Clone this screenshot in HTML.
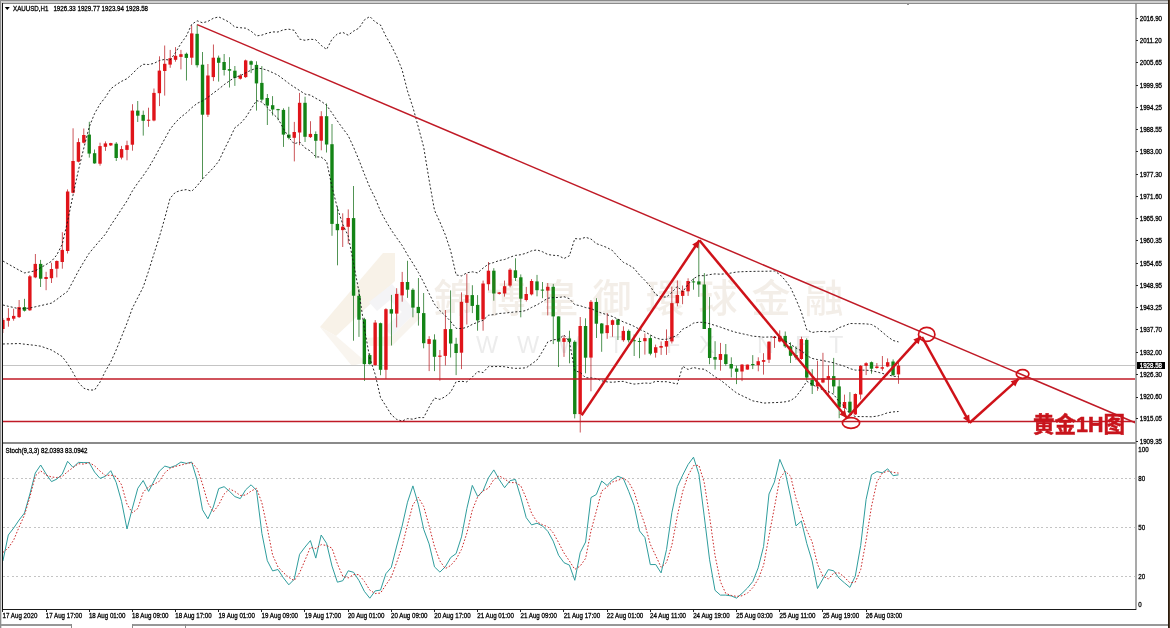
<!DOCTYPE html><html><head><meta charset="utf-8"><title>XAUUSD,H1</title><style>
html,body{margin:0;padding:0;background:#fff;width:1170px;height:628px;overflow:hidden}
svg{display:block}
text{font-family:"Liberation Sans","DejaVu Sans",sans-serif}
.cj{font-family:"Liberation Sans","Noto Sans CJK SC",sans-serif}
</style></head><body>
<svg width="1170" height="628" viewBox="0 0 1170 628" shape-rendering="crispEdges">
<rect x="0" y="0" width="1170" height="628" fill="#ffffff"/>
<rect x="0" y="0" width="1170" height="1" fill="#8a8a8a"/>
<rect x="1" y="1" width="1167" height="2" fill="#cfcfcf"/>
<rect x="2" y="3" width="1166" height="1" fill="#8c8c8c"/>
<rect x="0" y="0" width="1" height="628" fill="#8e8e8e"/>
<rect x="1" y="1" width="1" height="627" fill="#dadada"/>
<rect x="2" y="3" width="1" height="607" fill="#111"/>
<rect x="1168" y="0" width="1" height="628" fill="#2a1a0c"/>
<rect x="1169" y="0" width="1" height="628" fill="#4d3a28"/>
<defs><clipPath id="main"><rect x="3" y="4" width="1132" height="438"/></clipPath>
<clipPath id="sto"><rect x="3" y="445" width="1132" height="164"/></clipPath></defs>
<g clip-path="url(#main)">
<g shape-rendering="auto">
<polygon points="383,253 395,253 395,281 336,336 320,327" fill="#f8f2e8"/>
<polygon points="320,327 336,336 366,362 352,366" fill="#f9f5ef"/>
<polygon points="369,302 392,284 416,312 392,336 384,328 402,312 390,300 377,311" fill="#f4f4f6"/>
<polygon points="366,338 392,336 416,312 420,318 392,346 370,346" fill="#f8f4ee"/>
</g>
<rect x="3" y="365" width="1132" height="1" fill="#c4c4c4"/>
<rect x="2.55" y="318.0" width="0.72" height="15.0" fill="#b8161c" shape-rendering="auto"/>
<rect x="1.20" y="319.9" width="3.4" height="9.1" fill="#e0141a" shape-rendering="auto"/>
<rect x="7.95" y="308.2" width="0.72" height="18.5" fill="#b8161c" shape-rendering="auto"/>
<rect x="6.59" y="317.9" width="3.4" height="2.8" fill="#e0141a" shape-rendering="auto"/>
<rect x="13.34" y="308.7" width="0.72" height="12.0" fill="#b8161c" shape-rendering="auto"/>
<rect x="11.99" y="315.9" width="3.4" height="2.8" fill="#e0141a" shape-rendering="auto"/>
<rect x="18.73" y="300.0" width="0.72" height="18.0" fill="#b8161c" shape-rendering="auto"/>
<rect x="17.38" y="307.1" width="3.4" height="10.0" fill="#e0141a" shape-rendering="auto"/>
<rect x="24.13" y="298.8" width="0.72" height="12.7" fill="#0e6a12" shape-rendering="auto"/>
<rect x="22.78" y="307.1" width="3.4" height="3.6" fill="#138416" shape-rendering="auto"/>
<rect x="29.52" y="275.0" width="0.72" height="35.9" fill="#b8161c" shape-rendering="auto"/>
<rect x="28.17" y="276.3" width="3.4" height="34.0" fill="#e0141a" shape-rendering="auto"/>
<rect x="34.92" y="254.0" width="0.72" height="24.2" fill="#b8161c" shape-rendering="auto"/>
<rect x="33.57" y="263.9" width="3.4" height="13.5" fill="#e0141a" shape-rendering="auto"/>
<rect x="40.31" y="259.9" width="0.72" height="27.1" fill="#0e6a12" shape-rendering="auto"/>
<rect x="38.96" y="263.9" width="3.4" height="14.8" fill="#138416" shape-rendering="auto"/>
<rect x="45.71" y="271.8" width="0.72" height="18.4" fill="#b8161c" shape-rendering="auto"/>
<rect x="44.36" y="277.0" width="3.4" height="2.0" fill="#e0141a" shape-rendering="auto"/>
<rect x="51.10" y="262.8" width="0.72" height="20.2" fill="#b8161c" shape-rendering="auto"/>
<rect x="49.75" y="269.0" width="3.4" height="9.2" fill="#e0141a" shape-rendering="auto"/>
<rect x="56.50" y="260.4" width="0.72" height="17.0" fill="#b8161c" shape-rendering="auto"/>
<rect x="55.15" y="261.0" width="3.4" height="7.7" fill="#e0141a" shape-rendering="auto"/>
<rect x="61.89" y="232.2" width="0.72" height="36.5" fill="#b8161c" shape-rendering="auto"/>
<rect x="60.54" y="249.9" width="3.4" height="12.1" fill="#e0141a" shape-rendering="auto"/>
<rect x="67.29" y="189.4" width="0.72" height="64.1" fill="#b8161c" shape-rendering="auto"/>
<rect x="65.94" y="191.5" width="3.4" height="59.5" fill="#e0141a" shape-rendering="auto"/>
<rect x="72.69" y="128.3" width="0.72" height="65.2" fill="#b8161c" shape-rendering="auto"/>
<rect x="71.33" y="161.0" width="3.4" height="31.8" fill="#e0141a" shape-rendering="auto"/>
<rect x="78.08" y="138.3" width="0.72" height="24.1" fill="#b8161c" shape-rendering="auto"/>
<rect x="76.73" y="142.1" width="3.4" height="19.6" fill="#e0141a" shape-rendering="auto"/>
<rect x="83.48" y="128.5" width="0.72" height="14.9" fill="#b8161c" shape-rendering="auto"/>
<rect x="82.12" y="135.0" width="3.4" height="7.7" fill="#e0141a" shape-rendering="auto"/>
<rect x="88.87" y="121.8" width="0.72" height="35.8" fill="#0e6a12" shape-rendering="auto"/>
<rect x="87.52" y="134.6" width="3.4" height="19.0" fill="#138416" shape-rendering="auto"/>
<rect x="94.27" y="149.5" width="0.72" height="14.2" fill="#0e6a12" shape-rendering="auto"/>
<rect x="92.91" y="153.2" width="3.4" height="10.2" fill="#138416" shape-rendering="auto"/>
<rect x="99.66" y="142.7" width="0.72" height="23.0" fill="#b8161c" shape-rendering="auto"/>
<rect x="98.31" y="146.1" width="3.4" height="17.6" fill="#e0141a" shape-rendering="auto"/>
<rect x="105.06" y="141.4" width="0.72" height="9.5" fill="#b8161c" shape-rendering="auto"/>
<rect x="103.70" y="143.4" width="3.4" height="3.4" fill="#e0141a" shape-rendering="auto"/>
<rect x="110.45" y="142.8" width="0.72" height="3.2" fill="#b8161c" shape-rendering="auto"/>
<rect x="109.10" y="143.1" width="3.4" height="2.3" fill="#e0141a" shape-rendering="auto"/>
<rect x="115.84" y="142.1" width="0.72" height="18.9" fill="#0e6a12" shape-rendering="auto"/>
<rect x="114.49" y="143.7" width="3.4" height="14.3" fill="#138416" shape-rendering="auto"/>
<rect x="121.24" y="145.9" width="0.72" height="13.5" fill="#b8161c" shape-rendering="auto"/>
<rect x="119.89" y="149.1" width="3.4" height="8.5" fill="#e0141a" shape-rendering="auto"/>
<rect x="126.64" y="140.7" width="0.72" height="19.6" fill="#b8161c" shape-rendering="auto"/>
<rect x="125.28" y="145.2" width="3.4" height="4.7" fill="#e0141a" shape-rendering="auto"/>
<rect x="132.03" y="104.2" width="0.72" height="46.5" fill="#b8161c" shape-rendering="auto"/>
<rect x="130.68" y="110.6" width="3.4" height="34.1" fill="#e0141a" shape-rendering="auto"/>
<rect x="137.43" y="101.0" width="0.72" height="21.0" fill="#0e6a12" shape-rendering="auto"/>
<rect x="136.08" y="110.6" width="3.4" height="5.1" fill="#138416" shape-rendering="auto"/>
<rect x="142.82" y="110.6" width="0.72" height="25.0" fill="#0e6a12" shape-rendering="auto"/>
<rect x="141.47" y="114.9" width="3.4" height="5.9" fill="#138416" shape-rendering="auto"/>
<rect x="148.22" y="107.7" width="0.72" height="19.1" fill="#b8161c" shape-rendering="auto"/>
<rect x="146.87" y="119.7" width="3.4" height="1.1" fill="#e0141a" shape-rendering="auto"/>
<rect x="153.61" y="88.5" width="0.72" height="32.8" fill="#b8161c" shape-rendering="auto"/>
<rect x="152.26" y="92.9" width="3.4" height="27.6" fill="#e0141a" shape-rendering="auto"/>
<rect x="159.00" y="56.3" width="0.72" height="49.8" fill="#b8161c" shape-rendering="auto"/>
<rect x="157.66" y="70.6" width="3.4" height="22.6" fill="#e0141a" shape-rendering="auto"/>
<rect x="164.40" y="45.5" width="0.72" height="50.1" fill="#b8161c" shape-rendering="auto"/>
<rect x="163.05" y="63.8" width="3.4" height="7.2" fill="#e0141a" shape-rendering="auto"/>
<rect x="169.79" y="49.9" width="0.72" height="17.9" fill="#b8161c" shape-rendering="auto"/>
<rect x="168.44" y="58.2" width="3.4" height="6.4" fill="#e0141a" shape-rendering="auto"/>
<rect x="175.19" y="47.1" width="0.72" height="14.6" fill="#b8161c" shape-rendering="auto"/>
<rect x="173.84" y="55.8" width="3.4" height="4.0" fill="#e0141a" shape-rendering="auto"/>
<rect x="180.59" y="49.9" width="0.72" height="19.5" fill="#b8161c" shape-rendering="auto"/>
<rect x="179.24" y="54.2" width="3.4" height="2.7" fill="#e0141a" shape-rendering="auto"/>
<rect x="185.98" y="52.6" width="0.72" height="27.9" fill="#0e6a12" shape-rendering="auto"/>
<rect x="184.63" y="53.8" width="3.4" height="4.1" fill="#138416" shape-rendering="auto"/>
<rect x="191.38" y="25.7" width="0.72" height="39.2" fill="#b8161c" shape-rendering="auto"/>
<rect x="190.03" y="33.4" width="3.4" height="24.3" fill="#e0141a" shape-rendering="auto"/>
<rect x="196.77" y="24.5" width="0.72" height="43.0" fill="#0e6a12" shape-rendering="auto"/>
<rect x="195.42" y="33.8" width="3.4" height="31.4" fill="#138416" shape-rendering="auto"/>
<rect x="202.16" y="52.0" width="0.72" height="127.2" fill="#0e6a12" shape-rendering="auto"/>
<rect x="200.81" y="64.7" width="3.4" height="50.0" fill="#138416" shape-rendering="auto"/>
<rect x="207.56" y="64.0" width="0.72" height="53.0" fill="#b8161c" shape-rendering="auto"/>
<rect x="206.21" y="75.5" width="3.4" height="39.2" fill="#e0141a" shape-rendering="auto"/>
<rect x="212.95" y="44.5" width="0.72" height="36.6" fill="#b8161c" shape-rendering="auto"/>
<rect x="211.60" y="57.7" width="3.4" height="19.4" fill="#e0141a" shape-rendering="auto"/>
<rect x="218.35" y="55.6" width="0.72" height="26.0" fill="#0e6a12" shape-rendering="auto"/>
<rect x="217.00" y="57.7" width="3.4" height="5.1" fill="#138416" shape-rendering="auto"/>
<rect x="223.75" y="54.0" width="0.72" height="21.5" fill="#0e6a12" shape-rendering="auto"/>
<rect x="222.40" y="62.0" width="3.4" height="8.0" fill="#138416" shape-rendering="auto"/>
<rect x="229.14" y="57.2" width="0.72" height="30.3" fill="#0e6a12" shape-rendering="auto"/>
<rect x="227.79" y="69.1" width="3.4" height="1.6" fill="#138416" shape-rendering="auto"/>
<rect x="234.53" y="66.0" width="0.72" height="19.9" fill="#0e6a12" shape-rendering="auto"/>
<rect x="233.19" y="70.7" width="3.4" height="7.2" fill="#138416" shape-rendering="auto"/>
<rect x="239.93" y="73.9" width="0.72" height="5.6" fill="#b8161c" shape-rendering="auto"/>
<rect x="238.58" y="75.5" width="3.4" height="3.2" fill="#e0141a" shape-rendering="auto"/>
<rect x="245.32" y="59.6" width="0.72" height="18.3" fill="#b8161c" shape-rendering="auto"/>
<rect x="243.97" y="60.4" width="3.4" height="16.7" fill="#e0141a" shape-rendering="auto"/>
<rect x="250.72" y="60.4" width="0.72" height="12.7" fill="#0e6a12" shape-rendering="auto"/>
<rect x="249.37" y="61.2" width="3.4" height="3.5" fill="#138416" shape-rendering="auto"/>
<rect x="256.11" y="61.3" width="0.72" height="49.3" fill="#0e6a12" shape-rendering="auto"/>
<rect x="254.76" y="64.9" width="3.4" height="18.5" fill="#138416" shape-rendering="auto"/>
<rect x="261.51" y="66.1" width="0.72" height="35.1" fill="#0e6a12" shape-rendering="auto"/>
<rect x="260.16" y="82.9" width="3.4" height="16.7" fill="#138416" shape-rendering="auto"/>
<rect x="266.90" y="94.0" width="0.72" height="31.0" fill="#0e6a12" shape-rendering="auto"/>
<rect x="265.55" y="98.0" width="3.4" height="7.6" fill="#138416" shape-rendering="auto"/>
<rect x="272.30" y="96.1" width="0.72" height="19.4" fill="#0e6a12" shape-rendering="auto"/>
<rect x="270.95" y="105.2" width="3.4" height="4.3" fill="#138416" shape-rendering="auto"/>
<rect x="277.69" y="108.8" width="0.72" height="11.5" fill="#0e6a12" shape-rendering="auto"/>
<rect x="276.34" y="109.1" width="3.4" height="1.1" fill="#138416" shape-rendering="auto"/>
<rect x="283.09" y="108.3" width="0.72" height="38.6" fill="#0e6a12" shape-rendering="auto"/>
<rect x="281.74" y="109.9" width="3.4" height="24.7" fill="#138416" shape-rendering="auto"/>
<rect x="288.48" y="106.8" width="0.72" height="32.6" fill="#0e6a12" shape-rendering="auto"/>
<rect x="287.13" y="134.6" width="3.4" height="3.3" fill="#138416" shape-rendering="auto"/>
<rect x="293.88" y="121.9" width="0.72" height="39.5" fill="#b8161c" shape-rendering="auto"/>
<rect x="292.53" y="132.0" width="3.4" height="5.8" fill="#e0141a" shape-rendering="auto"/>
<rect x="299.27" y="92.9" width="0.72" height="52.3" fill="#b8161c" shape-rendering="auto"/>
<rect x="297.92" y="102.8" width="3.4" height="29.7" fill="#e0141a" shape-rendering="auto"/>
<rect x="304.67" y="96.7" width="0.72" height="45.3" fill="#0e6a12" shape-rendering="auto"/>
<rect x="303.32" y="102.8" width="3.4" height="34.0" fill="#138416" shape-rendering="auto"/>
<rect x="310.06" y="121.2" width="0.72" height="16.8" fill="#b8161c" shape-rendering="auto"/>
<rect x="308.71" y="133.9" width="3.4" height="3.2" fill="#e0141a" shape-rendering="auto"/>
<rect x="315.46" y="131.4" width="0.72" height="26.8" fill="#0e6a12" shape-rendering="auto"/>
<rect x="314.11" y="134.0" width="3.4" height="6.8" fill="#138416" shape-rendering="auto"/>
<rect x="320.85" y="111.2" width="0.72" height="39.1" fill="#b8161c" shape-rendering="auto"/>
<rect x="319.50" y="116.2" width="3.4" height="24.5" fill="#e0141a" shape-rendering="auto"/>
<rect x="326.25" y="103.5" width="0.72" height="49.0" fill="#0e6a12" shape-rendering="auto"/>
<rect x="324.90" y="116.2" width="3.4" height="28.3" fill="#138416" shape-rendering="auto"/>
<rect x="331.64" y="124.0" width="0.72" height="111.8" fill="#0e6a12" shape-rendering="auto"/>
<rect x="330.29" y="144.2" width="3.4" height="79.7" fill="#138416" shape-rendering="auto"/>
<rect x="337.04" y="206.5" width="0.72" height="58.8" fill="#0e6a12" shape-rendering="auto"/>
<rect x="335.69" y="223.9" width="3.4" height="6.3" fill="#138416" shape-rendering="auto"/>
<rect x="342.43" y="213.3" width="0.72" height="33.7" fill="#b8161c" shape-rendering="auto"/>
<rect x="341.08" y="226.7" width="3.4" height="3.4" fill="#e0141a" shape-rendering="auto"/>
<rect x="347.83" y="209.4" width="0.72" height="34.4" fill="#b8161c" shape-rendering="auto"/>
<rect x="346.48" y="218.0" width="3.4" height="8.8" fill="#e0141a" shape-rendering="auto"/>
<rect x="353.22" y="186.0" width="0.72" height="154.7" fill="#0e6a12" shape-rendering="auto"/>
<rect x="351.87" y="218.1" width="3.4" height="77.6" fill="#138416" shape-rendering="auto"/>
<rect x="358.62" y="289.0" width="0.72" height="47.9" fill="#0e6a12" shape-rendering="auto"/>
<rect x="357.27" y="295.8" width="3.4" height="23.9" fill="#138416" shape-rendering="auto"/>
<rect x="364.01" y="317.8" width="0.72" height="63.1" fill="#0e6a12" shape-rendering="auto"/>
<rect x="362.66" y="319.3" width="3.4" height="44.8" fill="#138416" shape-rendering="auto"/>
<rect x="369.41" y="353.2" width="0.72" height="11.4" fill="#0e6a12" shape-rendering="auto"/>
<rect x="368.06" y="355.1" width="3.4" height="9.0" fill="#138416" shape-rendering="auto"/>
<rect x="374.80" y="320.1" width="0.72" height="45.5" fill="#b8161c" shape-rendering="auto"/>
<rect x="373.45" y="322.6" width="3.4" height="42.6" fill="#e0141a" shape-rendering="auto"/>
<rect x="380.20" y="322.6" width="0.72" height="52.6" fill="#0e6a12" shape-rendering="auto"/>
<rect x="378.85" y="323.2" width="3.4" height="46.6" fill="#138416" shape-rendering="auto"/>
<rect x="385.59" y="308.2" width="0.72" height="70.8" fill="#b8161c" shape-rendering="auto"/>
<rect x="384.24" y="309.2" width="3.4" height="60.6" fill="#e0141a" shape-rendering="auto"/>
<rect x="390.99" y="294.9" width="0.72" height="50.6" fill="#0e6a12" shape-rendering="auto"/>
<rect x="389.64" y="309.2" width="3.4" height="4.4" fill="#138416" shape-rendering="auto"/>
<rect x="396.38" y="288.2" width="0.72" height="39.2" fill="#b8161c" shape-rendering="auto"/>
<rect x="395.03" y="293.9" width="3.4" height="19.7" fill="#e0141a" shape-rendering="auto"/>
<rect x="401.78" y="271.9" width="0.72" height="29.8" fill="#b8161c" shape-rendering="auto"/>
<rect x="400.43" y="282.0" width="3.4" height="13.4" fill="#e0141a" shape-rendering="auto"/>
<rect x="407.17" y="260.8" width="0.72" height="37.1" fill="#0e6a12" shape-rendering="auto"/>
<rect x="405.82" y="282.0" width="3.4" height="7.7" fill="#138416" shape-rendering="auto"/>
<rect x="412.57" y="288.3" width="0.72" height="29.0" fill="#0e6a12" shape-rendering="auto"/>
<rect x="411.22" y="289.8" width="3.4" height="17.8" fill="#138416" shape-rendering="auto"/>
<rect x="417.96" y="278.0" width="0.72" height="47.6" fill="#0e6a12" shape-rendering="auto"/>
<rect x="416.61" y="306.9" width="3.4" height="6.2" fill="#138416" shape-rendering="auto"/>
<rect x="423.36" y="293.0" width="0.72" height="55.3" fill="#0e6a12" shape-rendering="auto"/>
<rect x="422.01" y="313.1" width="3.4" height="30.1" fill="#138416" shape-rendering="auto"/>
<rect x="428.75" y="336.2" width="0.72" height="34.9" fill="#b8161c" shape-rendering="auto"/>
<rect x="427.40" y="339.1" width="3.4" height="4.8" fill="#e0141a" shape-rendering="auto"/>
<rect x="434.15" y="334.3" width="0.72" height="36.8" fill="#0e6a12" shape-rendering="auto"/>
<rect x="432.80" y="339.6" width="3.4" height="17.2" fill="#138416" shape-rendering="auto"/>
<rect x="439.54" y="350.0" width="0.72" height="30.7" fill="#b8161c" shape-rendering="auto"/>
<rect x="438.19" y="355.6" width="3.4" height="1.2" fill="#e0141a" shape-rendering="auto"/>
<rect x="444.94" y="310.0" width="0.72" height="55.4" fill="#b8161c" shape-rendering="auto"/>
<rect x="443.59" y="329.1" width="3.4" height="26.8" fill="#e0141a" shape-rendering="auto"/>
<rect x="450.33" y="290.4" width="0.72" height="67.1" fill="#0e6a12" shape-rendering="auto"/>
<rect x="448.98" y="329.1" width="3.4" height="14.4" fill="#138416" shape-rendering="auto"/>
<rect x="455.73" y="337.8" width="0.72" height="37.3" fill="#0e6a12" shape-rendering="auto"/>
<rect x="454.38" y="343.8" width="3.4" height="9.2" fill="#138416" shape-rendering="auto"/>
<rect x="461.12" y="292.4" width="0.72" height="76.7" fill="#b8161c" shape-rendering="auto"/>
<rect x="459.77" y="301.8" width="3.4" height="50.9" fill="#e0141a" shape-rendering="auto"/>
<rect x="466.52" y="273.8" width="0.72" height="50.7" fill="#b8161c" shape-rendering="auto"/>
<rect x="465.17" y="295.1" width="3.4" height="7.7" fill="#e0141a" shape-rendering="auto"/>
<rect x="471.91" y="285.2" width="0.72" height="27.9" fill="#0e6a12" shape-rendering="auto"/>
<rect x="470.56" y="295.1" width="3.4" height="10.8" fill="#138416" shape-rendering="auto"/>
<rect x="477.31" y="295.1" width="0.72" height="35.6" fill="#0e6a12" shape-rendering="auto"/>
<rect x="475.96" y="304.9" width="3.4" height="15.5" fill="#138416" shape-rendering="auto"/>
<rect x="482.70" y="280.6" width="0.72" height="50.1" fill="#b8161c" shape-rendering="auto"/>
<rect x="481.35" y="283.5" width="3.4" height="35.9" fill="#e0141a" shape-rendering="auto"/>
<rect x="488.10" y="262.0" width="0.72" height="28.4" fill="#b8161c" shape-rendering="auto"/>
<rect x="486.75" y="270.7" width="3.4" height="13.5" fill="#e0141a" shape-rendering="auto"/>
<rect x="493.49" y="268.2" width="0.72" height="32.5" fill="#0e6a12" shape-rendering="auto"/>
<rect x="492.14" y="270.7" width="3.4" height="22.8" fill="#138416" shape-rendering="auto"/>
<rect x="498.89" y="292.0" width="0.72" height="2.5" fill="#b8161c" shape-rendering="auto"/>
<rect x="497.54" y="292.4" width="3.4" height="1.5" fill="#e0141a" shape-rendering="auto"/>
<rect x="504.28" y="280.6" width="0.72" height="16.0" fill="#b8161c" shape-rendering="auto"/>
<rect x="502.93" y="286.2" width="3.4" height="7.3" fill="#e0141a" shape-rendering="auto"/>
<rect x="509.68" y="268.2" width="0.72" height="19.1" fill="#b8161c" shape-rendering="auto"/>
<rect x="508.33" y="269.7" width="3.4" height="15.9" fill="#e0141a" shape-rendering="auto"/>
<rect x="515.07" y="258.3" width="0.72" height="22.7" fill="#0e6a12" shape-rendering="auto"/>
<rect x="513.72" y="270.3" width="3.4" height="7.6" fill="#138416" shape-rendering="auto"/>
<rect x="520.47" y="274.4" width="0.72" height="42.9" fill="#0e6a12" shape-rendering="auto"/>
<rect x="519.12" y="277.3" width="3.4" height="21.4" fill="#138416" shape-rendering="auto"/>
<rect x="525.86" y="286.9" width="0.72" height="14.6" fill="#b8161c" shape-rendering="auto"/>
<rect x="524.51" y="294.0" width="3.4" height="6.0" fill="#e0141a" shape-rendering="auto"/>
<rect x="531.26" y="279.1" width="0.72" height="16.3" fill="#b8161c" shape-rendering="auto"/>
<rect x="529.91" y="281.0" width="3.4" height="13.4" fill="#e0141a" shape-rendering="auto"/>
<rect x="536.65" y="274.9" width="0.72" height="21.4" fill="#0e6a12" shape-rendering="auto"/>
<rect x="535.30" y="281.4" width="3.4" height="8.8" fill="#138416" shape-rendering="auto"/>
<rect x="542.05" y="282.0" width="0.72" height="16.2" fill="#0e6a12" shape-rendering="auto"/>
<rect x="540.70" y="289.6" width="3.4" height="1.0" fill="#138416" shape-rendering="auto"/>
<rect x="547.44" y="283.0" width="0.72" height="32.4" fill="#b8161c" shape-rendering="auto"/>
<rect x="546.09" y="286.8" width="3.4" height="3.8" fill="#e0141a" shape-rendering="auto"/>
<rect x="552.84" y="283.9" width="0.72" height="60.2" fill="#0e6a12" shape-rendering="auto"/>
<rect x="551.49" y="286.8" width="3.4" height="29.6" fill="#138416" shape-rendering="auto"/>
<rect x="558.23" y="316.4" width="0.72" height="50.6" fill="#0e6a12" shape-rendering="auto"/>
<rect x="556.88" y="316.4" width="3.4" height="25.2" fill="#138416" shape-rendering="auto"/>
<rect x="563.63" y="335.5" width="0.72" height="21.4" fill="#b8161c" shape-rendering="auto"/>
<rect x="562.28" y="338.2" width="3.4" height="3.7" fill="#e0141a" shape-rendering="auto"/>
<rect x="569.02" y="330.7" width="0.72" height="32.6" fill="#0e6a12" shape-rendering="auto"/>
<rect x="567.67" y="338.4" width="3.4" height="3.4" fill="#138416" shape-rendering="auto"/>
<rect x="574.42" y="340.3" width="0.72" height="78.1" fill="#0e6a12" shape-rendering="auto"/>
<rect x="573.07" y="341.8" width="3.4" height="72.3" fill="#138416" shape-rendering="auto"/>
<rect x="579.81" y="317.0" width="0.72" height="115.5" fill="#b8161c" shape-rendering="auto"/>
<rect x="578.46" y="326.0" width="3.4" height="88.1" fill="#e0141a" shape-rendering="auto"/>
<rect x="585.21" y="318.3" width="0.72" height="55.0" fill="#0e6a12" shape-rendering="auto"/>
<rect x="583.86" y="326.0" width="3.4" height="31.7" fill="#138416" shape-rendering="auto"/>
<rect x="590.60" y="300.0" width="0.72" height="91.3" fill="#b8161c" shape-rendering="auto"/>
<rect x="589.25" y="301.8" width="3.4" height="55.8" fill="#e0141a" shape-rendering="auto"/>
<rect x="596.00" y="298.2" width="0.72" height="39.8" fill="#0e6a12" shape-rendering="auto"/>
<rect x="594.65" y="301.9" width="3.4" height="21.8" fill="#138416" shape-rendering="auto"/>
<rect x="601.39" y="323.0" width="0.72" height="28.8" fill="#0e6a12" shape-rendering="auto"/>
<rect x="600.04" y="323.5" width="3.4" height="10.0" fill="#138416" shape-rendering="auto"/>
<rect x="606.79" y="313.0" width="0.72" height="25.8" fill="#b8161c" shape-rendering="auto"/>
<rect x="605.44" y="325.2" width="3.4" height="7.9" fill="#e0141a" shape-rendering="auto"/>
<rect x="612.18" y="319.4" width="0.72" height="17.4" fill="#b8161c" shape-rendering="auto"/>
<rect x="610.83" y="320.2" width="3.4" height="4.7" fill="#e0141a" shape-rendering="auto"/>
<rect x="617.58" y="318.7" width="0.72" height="21.3" fill="#0e6a12" shape-rendering="auto"/>
<rect x="616.23" y="319.4" width="3.4" height="5.5" fill="#138416" shape-rendering="auto"/>
<rect x="622.97" y="326.3" width="0.72" height="15.4" fill="#b8161c" shape-rendering="auto"/>
<rect x="621.62" y="330.9" width="3.4" height="9.3" fill="#e0141a" shape-rendering="auto"/>
<rect x="628.37" y="329.5" width="0.72" height="12.9" fill="#0e6a12" shape-rendering="auto"/>
<rect x="627.02" y="330.9" width="3.4" height="9.3" fill="#138416" shape-rendering="auto"/>
<rect x="633.76" y="334.5" width="0.72" height="21.5" fill="#0e6a12" shape-rendering="auto"/>
<rect x="632.41" y="340.2" width="3.4" height="1.0" fill="#138416" shape-rendering="auto"/>
<rect x="639.16" y="337.8" width="0.72" height="20.4" fill="#0e6a12" shape-rendering="auto"/>
<rect x="637.81" y="341.0" width="3.4" height="1.0" fill="#138416" shape-rendering="auto"/>
<rect x="644.55" y="333.5" width="0.72" height="21.1" fill="#b8161c" shape-rendering="auto"/>
<rect x="643.20" y="338.1" width="3.4" height="3.1" fill="#e0141a" shape-rendering="auto"/>
<rect x="649.95" y="335.2" width="0.72" height="20.1" fill="#0e6a12" shape-rendering="auto"/>
<rect x="648.60" y="338.1" width="3.4" height="15.6" fill="#138416" shape-rendering="auto"/>
<rect x="655.34" y="344.6" width="0.72" height="13.0" fill="#b8161c" shape-rendering="auto"/>
<rect x="653.99" y="347.2" width="3.4" height="5.6" fill="#e0141a" shape-rendering="auto"/>
<rect x="660.74" y="341.4" width="0.72" height="13.5" fill="#b8161c" shape-rendering="auto"/>
<rect x="659.39" y="346.0" width="3.4" height="1.7" fill="#e0141a" shape-rendering="auto"/>
<rect x="666.13" y="329.4" width="0.72" height="25.5" fill="#b8161c" shape-rendering="auto"/>
<rect x="664.78" y="341.0" width="3.4" height="5.6" fill="#e0141a" shape-rendering="auto"/>
<rect x="671.53" y="286.6" width="0.72" height="56.9" fill="#b8161c" shape-rendering="auto"/>
<rect x="670.18" y="303.1" width="3.4" height="38.3" fill="#e0141a" shape-rendering="auto"/>
<rect x="676.92" y="280.4" width="0.72" height="25.9" fill="#b8161c" shape-rendering="auto"/>
<rect x="675.57" y="294.9" width="3.4" height="8.2" fill="#e0141a" shape-rendering="auto"/>
<rect x="682.32" y="285.5" width="0.72" height="18.7" fill="#b8161c" shape-rendering="auto"/>
<rect x="680.97" y="290.7" width="3.4" height="5.2" fill="#e0141a" shape-rendering="auto"/>
<rect x="687.71" y="278.3" width="0.72" height="17.6" fill="#b8161c" shape-rendering="auto"/>
<rect x="686.36" y="281.0" width="3.4" height="10.3" fill="#e0141a" shape-rendering="auto"/>
<rect x="693.11" y="278.3" width="0.72" height="11.4" fill="#0e6a12" shape-rendering="auto"/>
<rect x="691.76" y="281.4" width="3.4" height="1.0" fill="#138416" shape-rendering="auto"/>
<rect x="698.50" y="243.1" width="0.72" height="53.8" fill="#0e6a12" shape-rendering="auto"/>
<rect x="697.15" y="281.4" width="3.4" height="3.1" fill="#138416" shape-rendering="auto"/>
<rect x="703.90" y="273.1" width="0.72" height="55.9" fill="#0e6a12" shape-rendering="auto"/>
<rect x="702.55" y="284.5" width="3.4" height="44.5" fill="#138416" shape-rendering="auto"/>
<rect x="709.29" y="296.9" width="0.72" height="67.3" fill="#0e6a12" shape-rendering="auto"/>
<rect x="707.94" y="328.0" width="3.4" height="30.0" fill="#138416" shape-rendering="auto"/>
<rect x="714.69" y="341.2" width="0.72" height="28.4" fill="#0e6a12" shape-rendering="auto"/>
<rect x="713.34" y="357.0" width="3.4" height="2.6" fill="#138416" shape-rendering="auto"/>
<rect x="720.08" y="342.9" width="0.72" height="27.8" fill="#b8161c" shape-rendering="auto"/>
<rect x="718.73" y="354.0" width="3.4" height="5.9" fill="#e0141a" shape-rendering="auto"/>
<rect x="725.48" y="344.0" width="0.72" height="21.7" fill="#0e6a12" shape-rendering="auto"/>
<rect x="724.13" y="354.3" width="3.4" height="9.7" fill="#138416" shape-rendering="auto"/>
<rect x="730.87" y="357.3" width="0.72" height="20.1" fill="#0e6a12" shape-rendering="auto"/>
<rect x="729.52" y="364.0" width="3.4" height="4.5" fill="#138416" shape-rendering="auto"/>
<rect x="736.27" y="365.7" width="0.72" height="18.4" fill="#0e6a12" shape-rendering="auto"/>
<rect x="734.92" y="368.5" width="3.4" height="3.3" fill="#138416" shape-rendering="auto"/>
<rect x="741.66" y="364.0" width="0.72" height="17.1" fill="#b8161c" shape-rendering="auto"/>
<rect x="740.31" y="364.6" width="3.4" height="6.9" fill="#e0141a" shape-rendering="auto"/>
<rect x="747.06" y="364.6" width="0.72" height="5.0" fill="#b8161c" shape-rendering="auto"/>
<rect x="745.71" y="364.6" width="3.4" height="5.0" fill="#e0141a" shape-rendering="auto"/>
<rect x="752.45" y="355.1" width="0.72" height="14.0" fill="#0e6a12" shape-rendering="auto"/>
<rect x="751.10" y="364.0" width="3.4" height="1.2" fill="#138416" shape-rendering="auto"/>
<rect x="757.85" y="357.3" width="0.72" height="14.0" fill="#b8161c" shape-rendering="auto"/>
<rect x="756.50" y="361.2" width="3.4" height="4.0" fill="#e0141a" shape-rendering="auto"/>
<rect x="763.24" y="353.2" width="0.72" height="21.4" fill="#b8161c" shape-rendering="auto"/>
<rect x="761.89" y="360.1" width="3.4" height="1.7" fill="#e0141a" shape-rendering="auto"/>
<rect x="768.64" y="341.2" width="0.72" height="21.8" fill="#b8161c" shape-rendering="auto"/>
<rect x="767.29" y="341.7" width="3.4" height="18.0" fill="#e0141a" shape-rendering="auto"/>
<rect x="774.03" y="335.9" width="0.72" height="12.0" fill="#b8161c" shape-rendering="auto"/>
<rect x="772.68" y="336.7" width="3.4" height="1.3" fill="#e0141a" shape-rendering="auto"/>
<rect x="779.43" y="330.4" width="0.72" height="11.9" fill="#b8161c" shape-rendering="auto"/>
<rect x="778.08" y="335.9" width="3.4" height="5.6" fill="#e0141a" shape-rendering="auto"/>
<rect x="784.82" y="331.5" width="0.72" height="16.4" fill="#0e6a12" shape-rendering="auto"/>
<rect x="783.47" y="335.9" width="3.4" height="10.4" fill="#138416" shape-rendering="auto"/>
<rect x="790.22" y="342.3" width="0.72" height="20.7" fill="#0e6a12" shape-rendering="auto"/>
<rect x="788.87" y="346.3" width="3.4" height="9.5" fill="#138416" shape-rendering="auto"/>
<rect x="795.61" y="346.3" width="0.72" height="13.5" fill="#0e6a12" shape-rendering="auto"/>
<rect x="794.26" y="355.0" width="3.4" height="2.4" fill="#138416" shape-rendering="auto"/>
<rect x="801.01" y="336.7" width="0.72" height="23.1" fill="#b8161c" shape-rendering="auto"/>
<rect x="799.66" y="339.1" width="3.4" height="19.9" fill="#e0141a" shape-rendering="auto"/>
<rect x="806.40" y="338.3" width="0.72" height="42.2" fill="#0e6a12" shape-rendering="auto"/>
<rect x="805.05" y="339.9" width="3.4" height="37.7" fill="#138416" shape-rendering="auto"/>
<rect x="811.80" y="369.1" width="0.72" height="24.9" fill="#0e6a12" shape-rendering="auto"/>
<rect x="810.45" y="380.0" width="3.4" height="5.7" fill="#138416" shape-rendering="auto"/>
<rect x="817.19" y="360.8" width="0.72" height="30.0" fill="#b8161c" shape-rendering="auto"/>
<rect x="815.84" y="382.5" width="3.4" height="3.9" fill="#e0141a" shape-rendering="auto"/>
<rect x="822.59" y="352.8" width="0.72" height="30.4" fill="#b8161c" shape-rendering="auto"/>
<rect x="821.24" y="378.3" width="3.4" height="4.2" fill="#e0141a" shape-rendering="auto"/>
<rect x="827.98" y="365.3" width="0.72" height="30.0" fill="#b8161c" shape-rendering="auto"/>
<rect x="826.63" y="376.1" width="3.4" height="3.5" fill="#e0141a" shape-rendering="auto"/>
<rect x="833.38" y="357.9" width="0.72" height="35.5" fill="#0e6a12" shape-rendering="auto"/>
<rect x="832.03" y="376.1" width="3.4" height="10.3" fill="#138416" shape-rendering="auto"/>
<rect x="838.77" y="380.0" width="0.72" height="38.2" fill="#0e6a12" shape-rendering="auto"/>
<rect x="837.42" y="386.4" width="3.4" height="21.0" fill="#138416" shape-rendering="auto"/>
<rect x="844.17" y="394.6" width="0.72" height="20.4" fill="#b8161c" shape-rendering="auto"/>
<rect x="842.82" y="402.0" width="3.4" height="6.0" fill="#e0141a" shape-rendering="auto"/>
<rect x="849.56" y="392.1" width="0.72" height="22.9" fill="#0e6a12" shape-rendering="auto"/>
<rect x="848.21" y="401.7" width="3.4" height="10.8" fill="#138416" shape-rendering="auto"/>
<rect x="854.96" y="393.4" width="0.72" height="21.6" fill="#b8161c" shape-rendering="auto"/>
<rect x="853.61" y="394.0" width="3.4" height="20.4" fill="#e0141a" shape-rendering="auto"/>
<rect x="860.35" y="365.0" width="0.72" height="34.5" fill="#b8161c" shape-rendering="auto"/>
<rect x="859.00" y="365.8" width="3.4" height="28.7" fill="#e0141a" shape-rendering="auto"/>
<rect x="865.75" y="362.2" width="0.72" height="12.9" fill="#b8161c" shape-rendering="auto"/>
<rect x="864.40" y="363.2" width="3.4" height="2.6" fill="#e0141a" shape-rendering="auto"/>
<rect x="871.14" y="361.5" width="0.72" height="12.2" fill="#0e6a12" shape-rendering="auto"/>
<rect x="869.79" y="362.2" width="3.4" height="6.5" fill="#138416" shape-rendering="auto"/>
<rect x="876.54" y="363.0" width="0.72" height="5.7" fill="#b8161c" shape-rendering="auto"/>
<rect x="875.19" y="366.5" width="3.4" height="1.5" fill="#e0141a" shape-rendering="auto"/>
<rect x="881.93" y="356.0" width="0.72" height="14.8" fill="#b8161c" shape-rendering="auto"/>
<rect x="880.58" y="367.2" width="3.4" height="1.5" fill="#e0141a" shape-rendering="auto"/>
<rect x="887.33" y="358.4" width="0.72" height="8.8" fill="#b8161c" shape-rendering="auto"/>
<rect x="885.98" y="362.2" width="3.4" height="4.3" fill="#e0141a" shape-rendering="auto"/>
<rect x="892.72" y="359.4" width="0.72" height="16.7" fill="#0e6a12" shape-rendering="auto"/>
<rect x="891.37" y="361.5" width="3.4" height="13.6" fill="#138416" shape-rendering="auto"/>
<rect x="898.12" y="361.0" width="0.72" height="22.8" fill="#b8161c" shape-rendering="auto"/>
<rect x="896.77" y="365.6" width="3.4" height="8.8" fill="#e0141a" shape-rendering="auto"/>
</g>
<g shape-rendering="auto">
<text class="cj" x="433.5" y="312" font-size="39" font-weight="500" fill="#96642a" fill-opacity="0.11">錦</text>
<text class="cj" x="486.5" y="312" font-size="39" font-weight="500" fill="#96642a" fill-opacity="0.11">博</text>
<text class="cj" x="539.5" y="312" font-size="39" font-weight="500" fill="#96642a" fill-opacity="0.11">皇</text>
<text class="cj" x="592.5" y="312" font-size="39" font-weight="500" fill="#96642a" fill-opacity="0.11">御</text>
<text class="cj" x="645.5" y="312" font-size="39" font-weight="500" fill="#96642a" fill-opacity="0.11">環</text>
<text class="cj" x="698.5" y="312" font-size="39" font-weight="500" fill="#96642a" fill-opacity="0.11">球</text>
<text class="cj" x="751.5" y="312" font-size="39" font-weight="500" fill="#96642a" fill-opacity="0.11">金</text>
<text class="cj" x="804.5" y="312" font-size="39" font-weight="500" fill="#96642a" fill-opacity="0.11">融</text>
<text x="476" y="352.6" font-size="23.5" fill="#707070" fill-opacity="0.13">W</text>
<text x="517" y="352.6" font-size="23.5" fill="#707070" fill-opacity="0.13">W</text>
<text x="558" y="352.6" font-size="23.5" fill="#707070" fill-opacity="0.13">W</text>
<text x="609" y="352.6" font-size="23.5" fill="#707070" fill-opacity="0.13">T</text>
<text x="666" y="352.6" font-size="23.5" fill="#707070" fill-opacity="0.13">F</text>
<text x="699" y="352.6" font-size="23.5" fill="#707070" fill-opacity="0.13">X</text>
<text x="757" y="352.6" font-size="23.5" fill="#707070" fill-opacity="0.13">N</text>
<text x="795" y="352.6" font-size="23.5" fill="#707070" fill-opacity="0.13">E</text>
<text x="829" y="352.6" font-size="23.5" fill="#707070" fill-opacity="0.13">T</text>
</g>
<g clip-path="url(#main)">
<polyline points="2.9,261.0 8.3,264.1 13.7,267.1 19.1,270.2 24.5,272.9 29.9,271.9 35.3,270.8 40.7,267.7 46.1,264.5 51.5,261.3 56.8,254.9 62.2,244.3 67.6,221.3 73.0,195.2 78.4,170.3 83.8,148.1 89.2,127.0 94.6,113.5 100.0,104.1 105.4,97.2 110.8,88.8 116.2,84.7 121.6,81.3 127.0,78.7 132.4,73.7 137.8,68.2 143.2,64.3 148.6,64.5 154.0,63.4 159.4,60.5 164.8,59.4 170.1,60.2 175.5,52.6 180.9,43.6 186.3,36.1 191.7,24.4 197.1,20.8 202.5,22.8 207.9,21.4 213.3,18.3 218.7,16.9 224.1,19.5 229.5,22.4 234.9,27.1 240.3,27.7 245.7,28.2 251.1,31.2 256.5,35.9 261.9,35.1 267.3,33.2 272.6,31.9 278.0,32.0 283.4,29.8 288.8,29.2 294.2,30.3 299.6,39.1 305.0,40.3 310.4,39.2 315.8,39.8 321.2,45.4 326.6,49.4 332.0,39.2 337.4,33.9 342.8,32.4 348.2,35.2 353.6,31.1 359.0,28.1 364.4,19.9 369.8,16.5 375.2,22.0 380.5,25.0 385.9,36.3 391.3,45.6 396.7,56.5 402.1,69.8 407.5,91.0 412.9,107.4 418.3,126.9 423.7,147.2 429.1,180.0 434.5,210.3 439.9,222.0 445.3,234.8 450.7,251.0 456.1,274.9 461.5,275.9 466.9,272.8 472.3,271.8 477.7,272.9 483.1,268.1 488.4,264.1 493.8,262.5 499.2,260.5 504.6,259.5 510.0,257.2 515.4,255.4 520.8,254.7 526.2,253.2 531.6,250.8 537.0,249.9 542.4,251.7 547.8,254.5 553.2,255.3 558.6,255.7 564.0,258.5 569.4,255.8 574.8,238.6 580.2,239.0 585.6,237.3 591.0,239.0 596.3,243.6 601.7,245.5 607.1,247.6 612.5,250.6 617.9,256.9 623.3,262.3 628.7,264.9 634.1,268.4 639.5,275.0 644.9,280.4 650.3,286.4 655.7,294.5 661.1,297.0 666.5,297.0 671.9,292.4 677.3,286.4 682.7,291.9 688.1,284.1 693.5,278.7 698.9,275.6 704.2,275.7 709.6,274.6 715.0,273.9 720.4,274.2 725.8,273.8 731.2,273.0 736.6,272.0 742.0,271.7 747.4,271.5 752.8,271.4 758.2,271.3 763.6,271.3 769.0,271.2 774.4,271.0 779.8,274.5 785.2,280.2 790.6,287.7 796.0,299.4 801.4,312.3 806.8,329.8 812.1,332.5 817.5,331.6 822.9,331.4 828.3,331.9 833.7,331.1 839.1,327.6 844.5,325.8 849.9,323.5 855.3,323.6 860.7,323.7 866.1,323.9 871.5,324.5 876.9,327.6 882.3,332.1 887.7,336.7 893.1,340.5 898.5,341.9" fill="none" stroke="#111" stroke-width="0.9" stroke-dasharray="2 2" shape-rendering="auto"/>
<polyline points="2.9,305.0 8.3,306.3 13.7,307.5 19.1,308.8 24.5,308.6 29.9,308.0 35.3,306.8 40.7,305.6 46.1,304.4 51.5,303.1 56.8,299.4 62.2,295.3 67.6,291.3 73.0,281.3 78.4,271.0 83.8,261.9 89.2,253.2 94.6,246.7 100.0,240.4 105.4,234.2 110.8,225.3 116.2,217.3 121.6,209.0 127.0,200.9 132.4,190.9 137.8,182.9 143.2,175.7 148.6,167.8 154.0,158.6 159.4,148.6 164.8,138.8 170.1,129.2 175.5,122.4 180.9,117.1 186.3,112.9 191.7,107.8 197.1,103.4 202.5,100.9 207.9,97.4 213.3,93.1 218.7,89.1 224.1,84.7 229.5,80.8 234.9,77.4 240.3,75.7 245.7,72.9 251.1,70.1 256.5,68.3 261.9,68.6 267.3,70.3 272.6,72.6 278.0,75.2 283.4,79.2 288.8,83.4 294.2,87.1 299.6,90.5 305.0,94.1 310.4,95.1 315.8,98.3 321.2,101.3 326.6,105.3 332.0,113.0 337.4,121.0 342.8,128.5 348.2,135.6 353.6,147.3 359.0,160.1 364.4,174.1 369.8,187.4 375.2,198.2 380.5,211.2 385.9,221.2 391.3,230.1 396.7,237.9 402.1,245.4 407.5,254.8 412.9,263.3 418.3,272.3 423.7,282.4 429.1,293.5 434.5,304.2 439.9,310.7 445.3,315.7 450.7,321.5 456.1,328.3 461.5,328.6 466.9,327.3 472.3,324.4 477.7,322.2 483.1,320.3 488.4,315.3 493.8,314.6 499.2,313.5 504.6,313.1 510.0,312.5 515.4,311.9 520.8,311.5 526.2,310.5 531.6,307.4 537.0,304.9 542.4,301.6 547.8,298.2 553.2,297.6 558.6,297.5 564.0,296.7 569.4,298.7 574.8,304.7 580.2,305.7 585.6,307.6 591.0,308.5 596.3,311.1 601.7,313.1 607.1,314.8 612.5,316.5 617.9,319.2 623.3,321.9 628.7,323.9 634.1,326.3 639.5,329.3 644.9,331.7 650.3,334.9 655.7,337.9 661.1,339.4 666.5,339.3 671.9,337.6 677.3,335.2 682.7,329.1 688.1,326.8 693.5,323.1 698.9,322.2 704.2,322.5 709.6,323.7 715.0,325.4 720.4,327.1 725.8,329.1 731.2,330.9 736.6,332.5 742.0,333.7 747.4,334.8 752.8,336.2 758.2,336.6 763.6,337.2 769.0,337.0 774.4,336.8 779.8,338.4 785.2,341.0 790.6,344.2 796.0,348.1 801.4,350.9 806.8,355.6 812.1,358.4 817.5,359.6 822.9,360.6 828.3,361.7 833.7,362.8 839.1,364.7 844.5,366.2 849.9,368.6 855.3,370.1 860.7,370.1 866.1,370.2 871.5,370.7 876.9,371.9 882.3,373.4 887.7,374.7 893.1,376.2 898.5,376.7" fill="none" stroke="#111" stroke-width="0.9" stroke-dasharray="2 2" shape-rendering="auto"/>
<polyline points="2.9,344.0 8.3,343.8 13.7,343.7 19.1,343.5 24.5,344.2 29.9,344.8 35.3,345.4 40.7,346.2 46.1,348.1 51.5,350.0 56.8,353.2 62.2,356.6 67.6,363.7 73.0,372.5 78.4,382.4 83.8,388.2 89.2,390.0 94.6,390.0 100.0,382.1 105.4,371.2 110.8,361.9 116.2,349.9 121.6,336.6 127.0,323.1 132.4,308.1 137.8,297.6 143.2,287.1 148.6,271.0 154.0,253.7 159.4,236.8 164.8,218.1 170.1,198.2 175.5,192.2 180.9,190.5 186.3,189.6 191.7,191.2 197.1,185.9 202.5,179.0 207.9,173.4 213.3,167.9 218.7,161.3 224.1,149.9 229.5,139.1 234.9,127.7 240.3,123.6 245.7,117.5 251.1,109.0 256.5,100.6 261.9,102.1 267.3,107.5 272.6,113.4 278.0,118.5 283.4,128.6 288.8,137.5 294.2,143.8 299.6,142.0 305.0,147.9 310.4,151.0 315.8,156.8 321.2,157.1 326.6,161.3 332.0,186.9 337.4,208.1 342.8,224.5 348.2,235.9 353.6,263.6 359.0,292.1 364.4,328.4 369.8,358.2 375.2,374.4 380.5,397.5 385.9,406.0 391.3,414.7 396.7,419.4 402.1,421.1 407.5,418.6 412.9,419.2 418.3,417.6 423.7,417.6 429.1,407.1 434.5,398.0 439.9,399.4 445.3,396.6 450.7,392.1 456.1,381.7 461.5,381.3 466.9,381.9 472.3,377.0 477.7,371.6 483.1,372.5 488.4,366.6 493.8,366.6 499.2,366.5 504.6,366.7 510.0,367.8 515.4,368.4 520.8,368.2 526.2,367.8 531.6,364.0 537.0,360.0 542.4,351.6 547.8,341.9 553.2,339.8 558.6,339.3 564.0,335.0 569.4,341.7 574.8,370.7 580.2,372.4 585.6,377.8 591.0,377.9 596.3,378.6 601.7,380.8 607.1,381.9 612.5,382.3 617.9,381.6 623.3,381.4 628.7,383.0 634.1,384.1 639.5,383.6 644.9,383.0 650.3,383.4 655.7,381.3 661.1,381.7 666.5,381.7 671.9,382.8 677.3,384.1 682.7,366.3 688.1,369.5 693.5,367.5 698.9,368.8 704.2,369.2 709.6,372.7 715.0,376.9 720.4,380.0 725.8,384.3 731.2,388.8 736.6,393.0 742.0,395.7 747.4,398.2 752.8,400.9 758.2,401.8 763.6,403.1 769.0,402.8 774.4,402.6 779.8,402.4 785.2,401.8 790.6,400.7 796.0,396.7 801.4,389.5 806.8,381.3 812.1,384.3 817.5,387.6 822.9,389.7 828.3,391.4 833.7,394.4 839.1,401.8 844.5,406.7 849.9,413.8 855.3,416.5 860.7,416.6 866.1,416.6 871.5,416.8 876.9,416.2 882.3,414.7 887.7,412.7 893.1,411.9 898.5,411.5" fill="none" stroke="#111" stroke-width="0.9" stroke-dasharray="2 2" shape-rendering="auto"/>
</g>
<g clip-path="url(#main)" shape-rendering="auto">
<line x1="3" y1="379" x2="1135" y2="379" stroke="#c01a26" stroke-width="1.5"/>
<line x1="3" y1="421.6" x2="1135" y2="421.6" stroke="#c01a26" stroke-width="1.5"/>
<line x1="197.2" y1="24.6" x2="1136" y2="423.1" stroke="#c01a26" stroke-width="1.5"/>
<line x1="581.7" y1="415.4" x2="699.4" y2="240.3" stroke="#cf1219" stroke-width="2.5"/><polygon points="699.4,240.3 698.2,248.5 692.2,244.5" fill="#cf1219"/>
<line x1="699.4" y1="240.3" x2="847" y2="418" stroke="#cf1219" stroke-width="2.5"/><polygon points="847,418 839.4,414.5 845.0,409.9" fill="#cf1219"/>
<line x1="847" y1="418" x2="921" y2="336.3" stroke="#cf1219" stroke-width="2.5"/><polygon points="921,336.3 918.6,344.3 913.3,339.4" fill="#cf1219"/>
<line x1="922" y1="337" x2="969.7" y2="422.8" stroke="#cf1219" stroke-width="2.5"/><polygon points="969.7,422.8 962.9,418.0 969.2,414.5" fill="#cf1219"/>
<line x1="969.7" y1="422.8" x2="1018.6" y2="378.9" stroke="#cf1219" stroke-width="2.5"/><polygon points="1018.6,378.9 1015.4,386.6 1010.6,381.2" fill="#cf1219"/>
<ellipse cx="926.7" cy="334.4" rx="8.2" ry="7" fill="none" stroke="#cf1219" stroke-width="1.7"/>
<ellipse cx="851" cy="423" rx="8.6" ry="5.4" fill="none" stroke="#cf1219" stroke-width="1.7"/>
<ellipse cx="1022.6" cy="374" rx="6.3" ry="4.3" fill="none" stroke="#cf1219" stroke-width="1.7"/>
</g>
<text x="1033" y="431.5" font-size="22" font-weight="bold" fill="#c8141c" stroke="#c8141c" stroke-width="0.5" textLength="92" lengthAdjust="spacingAndGlyphs"><tspan font-family="Noto Sans CJK SC, sans-serif">黄金</tspan><tspan font-family="Liberation Sans, sans-serif">1H</tspan><tspan font-family="Noto Sans CJK SC, sans-serif">图</tspan></text>
<polygon points="4.8,7 9.8,7 7.3,10" fill="#000" shape-rendering="auto"/>
<text transform="translate(13.00,10.90) scale(0.91,1)" font-size="6.8" fill="#000" stroke="#000" stroke-width="0.28" >XAUUSD,H1</text>
<text transform="translate(53.40,10.90) scale(0.91,1)" font-size="6.8" fill="#000" stroke="#000" stroke-width="0.28" >1926.33 1929.77 1923.94 1928.58</text>
<polygon points="905.5,3 910.5,3 908,5.5" fill="#909090"/>
<rect x="1135.3" y="3" width="1.4" height="607" fill="#858585" shape-rendering="auto"/>
<rect x="3" y="442" width="1133" height="2" fill="#8a8a8a"/>
<rect x="3" y="609" width="1133" height="1" fill="#1a1a1a"/>
<rect x="1136" y="18.0" width="2" height="1" fill="#222"/>
<text transform="translate(1139.70,20.90) scale(0.91,1)" font-size="6.8" fill="#000" stroke="#000" stroke-width="0.28" >2016.90</text>
<rect x="1136" y="40.4" width="2" height="1" fill="#222"/>
<text transform="translate(1139.70,43.30) scale(0.91,1)" font-size="6.8" fill="#000" stroke="#000" stroke-width="0.28" >2011.20</text>
<rect x="1136" y="62.2" width="2" height="1" fill="#222"/>
<text transform="translate(1139.70,65.11) scale(0.91,1)" font-size="6.8" fill="#000" stroke="#000" stroke-width="0.28" >2005.65</text>
<rect x="1136" y="84.6" width="2" height="1" fill="#222"/>
<text transform="translate(1139.70,87.51) scale(0.91,1)" font-size="6.8" fill="#000" stroke="#000" stroke-width="0.28" >1999.95</text>
<rect x="1136" y="107.0" width="2" height="1" fill="#222"/>
<text transform="translate(1139.70,109.91) scale(0.91,1)" font-size="6.8" fill="#000" stroke="#000" stroke-width="0.28" >1994.25</text>
<rect x="1136" y="129.4" width="2" height="1" fill="#222"/>
<text transform="translate(1139.70,132.32) scale(0.91,1)" font-size="6.8" fill="#000" stroke="#000" stroke-width="0.28" >1988.55</text>
<rect x="1136" y="151.2" width="2" height="1" fill="#222"/>
<text transform="translate(1139.70,154.13) scale(0.91,1)" font-size="6.8" fill="#000" stroke="#000" stroke-width="0.28" >1983.00</text>
<rect x="1136" y="173.6" width="2" height="1" fill="#222"/>
<text transform="translate(1139.70,176.53) scale(0.91,1)" font-size="6.8" fill="#000" stroke="#000" stroke-width="0.28" >1977.30</text>
<rect x="1136" y="196.0" width="2" height="1" fill="#222"/>
<text transform="translate(1139.70,198.93) scale(0.91,1)" font-size="6.8" fill="#000" stroke="#000" stroke-width="0.28" >1971.60</text>
<rect x="1136" y="218.4" width="2" height="1" fill="#222"/>
<text transform="translate(1139.70,221.33) scale(0.91,1)" font-size="6.8" fill="#000" stroke="#000" stroke-width="0.28" >1965.90</text>
<rect x="1136" y="240.2" width="2" height="1" fill="#222"/>
<text transform="translate(1139.70,243.14) scale(0.91,1)" font-size="6.8" fill="#000" stroke="#000" stroke-width="0.28" >1960.35</text>
<rect x="1136" y="262.6" width="2" height="1" fill="#222"/>
<text transform="translate(1139.70,265.54) scale(0.91,1)" font-size="6.8" fill="#000" stroke="#000" stroke-width="0.28" >1954.65</text>
<rect x="1136" y="285.0" width="2" height="1" fill="#222"/>
<text transform="translate(1139.70,287.94) scale(0.91,1)" font-size="6.8" fill="#000" stroke="#000" stroke-width="0.28" >1948.95</text>
<rect x="1136" y="307.4" width="2" height="1" fill="#222"/>
<text transform="translate(1139.70,310.34) scale(0.91,1)" font-size="6.8" fill="#000" stroke="#000" stroke-width="0.28" >1943.25</text>
<rect x="1136" y="329.3" width="2" height="1" fill="#222"/>
<text transform="translate(1139.70,332.16) scale(0.91,1)" font-size="6.8" fill="#000" stroke="#000" stroke-width="0.28" >1937.70</text>
<rect x="1136" y="351.7" width="2" height="1" fill="#222"/>
<text transform="translate(1139.70,354.56) scale(0.91,1)" font-size="6.8" fill="#000" stroke="#000" stroke-width="0.28" >1932.00</text>
<rect x="1136" y="374.1" width="2" height="1" fill="#222"/>
<text transform="translate(1139.70,376.96) scale(0.91,1)" font-size="6.8" fill="#000" stroke="#000" stroke-width="0.28" >1926.30</text>
<rect x="1136" y="396.5" width="2" height="1" fill="#222"/>
<text transform="translate(1139.70,399.36) scale(0.91,1)" font-size="6.8" fill="#000" stroke="#000" stroke-width="0.28" >1920.60</text>
<rect x="1136" y="418.3" width="2" height="1" fill="#222"/>
<text transform="translate(1139.70,421.17) scale(0.91,1)" font-size="6.8" fill="#000" stroke="#000" stroke-width="0.28" >1915.05</text>
<rect x="1136" y="440.7" width="2" height="1" fill="#222"/>
<text transform="translate(1139.70,443.57) scale(0.91,1)" font-size="6.8" fill="#000" stroke="#000" stroke-width="0.28" >1909.35</text>
<rect x="1137" y="362.2" width="28" height="6.6" fill="#000"/>
<text transform="translate(1139.70,367.90) scale(0.91,1)" font-size="6.8" fill="#fff" stroke="#fff" stroke-width="0.28" >1928.58</text>
<g clip-path="url(#sto)">
<line x1="3" y1="478.1" x2="1135" y2="478.1" stroke="#c4c4c4" stroke-width="1" stroke-dasharray="2 2.4"/>
<line x1="3" y1="527.4" x2="1135" y2="527.4" stroke="#c4c4c4" stroke-width="1" stroke-dasharray="2 2.4"/>
<line x1="3" y1="576.7" x2="1135" y2="576.7" stroke="#c4c4c4" stroke-width="1" stroke-dasharray="2 2.4"/>
<polyline points="2.9,561.0 8.3,535.0 13.7,528.0 19.1,520.0 24.5,513.0 29.9,494.0 35.3,473.0 40.7,465.0 46.1,474.0 51.5,481.6 56.8,479.1 62.2,474.2 67.6,461.3 73.0,467.4 78.4,462.4 83.8,462.6 89.2,462.7 94.6,472.1 100.0,478.4 105.4,476.3 110.8,470.7 116.2,482.4 121.6,501.6 127.0,529.0 132.4,508.1 137.8,488.3 143.2,480.5 148.6,491.4 154.0,481.0 159.4,471.2 164.8,466.1 170.1,467.6 175.5,465.6 180.9,462.1 186.3,463.4 191.7,462.1 197.1,480.0 202.5,509.8 207.9,518.8 213.3,507.0 218.7,488.6 224.1,486.7 229.5,491.3 234.9,496.6 240.3,498.6 245.7,489.8 251.1,484.8 256.5,490.4 261.9,533.4 267.3,560.7 272.6,570.9 278.0,569.5 283.4,577.8 288.8,584.8 294.2,579.3 299.6,554.3 305.0,547.1 310.4,540.6 315.8,558.1 321.2,535.0 326.6,543.4 332.0,566.1 337.4,582.2 342.8,580.7 348.2,570.8 353.6,572.3 359.0,580.6 364.4,591.4 369.8,598.2 375.2,590.9 380.5,590.1 385.9,573.7 391.3,567.3 396.7,546.0 402.1,526.1 407.5,502.2 412.9,485.9 418.3,504.3 423.7,529.3 429.1,543.9 434.5,566.9 439.9,572.1 445.3,566.8 450.7,557.5 456.1,553.6 461.5,536.9 466.9,508.4 472.3,485.4 477.7,496.5 483.1,490.6 488.4,477.9 493.8,469.9 499.2,479.5 504.6,487.7 510.0,480.7 515.4,479.4 520.8,497.4 526.2,517.6 531.6,524.9 537.0,523.2 542.4,525.9 547.8,531.3 553.2,541.1 558.6,555.3 564.0,562.7 569.4,565.1 574.8,580.3 580.2,552.7 585.6,542.0 591.0,497.5 596.3,494.5 601.7,481.0 607.1,485.5 612.5,479.7 617.9,476.2 623.3,478.5 628.7,491.3 634.1,505.5 639.5,530.9 644.9,537.5 650.3,564.6 655.7,564.5 661.1,572.9 666.5,549.7 671.9,512.5 677.3,486.7 682.7,475.1 688.1,464.5 693.5,457.2 698.9,474.3 704.2,515.9 709.6,559.8 715.0,590.3 720.4,595.1 725.8,595.1 731.2,595.9 736.6,598.1 742.0,593.4 747.4,588.1 752.8,581.5 758.2,567.8 763.6,546.4 769.0,494.0 774.4,482.1 779.8,459.4 785.2,472.1 790.6,497.0 796.0,525.9 801.4,521.0 806.8,543.6 812.1,560.9 817.5,588.5 822.9,578.9 828.3,569.6 833.7,570.8 839.1,578.2 844.5,582.9 849.9,587.4 855.3,576.1 860.7,545.4 866.1,499.4 871.5,474.7 876.9,471.6 882.3,472.8 887.7,468.8 893.1,475.7 898.5,474.8" fill="none" stroke="#2f9d9d" stroke-width="1" shape-rendering="auto"/>
<polyline points="2.9,552.5 8.3,548.0 13.7,540.0 19.1,527.0 24.5,515.0 29.9,497.0 35.3,476.0 40.7,471.0 46.1,475.0 51.5,477.0 56.8,477.5 62.2,476.5 67.6,471.6 73.0,467.6 78.4,463.7 83.8,464.1 89.2,462.6 94.6,465.8 100.0,471.1 105.4,475.6 110.8,475.1 116.2,476.5 121.6,484.9 127.0,504.3 132.4,512.9 137.8,508.5 143.2,492.3 148.6,486.7 154.0,484.3 159.4,481.2 164.8,472.8 170.1,468.3 175.5,466.4 180.9,465.1 186.3,463.7 191.7,462.5 197.1,468.5 202.5,484.0 207.9,502.9 213.3,511.9 218.7,504.8 224.1,494.1 229.5,488.9 234.9,491.5 240.3,495.5 245.7,495.0 251.1,491.1 256.5,488.3 261.9,502.9 267.3,528.1 272.6,555.0 278.0,567.0 283.4,572.7 288.8,577.4 294.2,580.6 299.6,572.8 305.0,560.2 310.4,547.3 315.8,548.6 321.2,544.6 326.6,545.5 332.0,548.2 337.4,563.9 342.8,576.3 348.2,577.9 353.6,574.6 359.0,574.6 364.4,581.4 369.8,590.1 375.2,593.5 380.5,593.1 385.9,584.9 391.3,577.0 396.7,562.4 402.1,546.5 407.5,524.8 412.9,504.7 418.3,497.4 423.7,506.5 429.1,525.8 434.5,546.7 439.9,561.0 445.3,568.6 450.7,565.5 456.1,559.3 461.5,549.4 466.9,533.0 472.3,510.2 477.7,496.8 483.1,490.8 488.4,488.3 493.8,479.5 499.2,475.8 504.6,479.0 510.0,482.6 515.4,482.6 520.8,485.8 526.2,498.1 531.6,513.3 537.0,521.9 542.4,524.7 547.8,526.8 553.2,532.8 558.6,542.6 564.0,553.0 569.4,561.0 574.8,569.4 580.2,566.0 585.6,558.4 591.0,530.8 596.3,511.3 601.7,491.0 607.1,487.0 612.5,482.0 617.9,480.4 623.3,478.1 628.7,482.0 634.1,491.8 639.5,509.2 644.9,524.6 650.3,544.3 655.7,555.6 661.1,567.3 666.5,562.4 671.9,545.0 677.3,516.3 682.7,491.4 688.1,475.5 693.5,465.6 698.9,465.3 704.2,482.5 709.6,516.7 715.0,555.3 720.4,581.7 725.8,593.5 731.2,595.4 736.6,596.4 742.0,595.8 747.4,593.2 752.8,587.7 758.2,579.1 763.6,565.2 769.0,536.1 774.4,507.5 779.8,478.5 785.2,471.2 790.6,476.2 796.0,498.3 801.4,514.6 806.8,530.2 812.1,541.8 817.5,564.3 822.9,576.1 828.3,579.0 833.7,573.1 839.1,572.9 844.5,577.3 849.9,582.8 855.3,582.1 860.7,569.6 866.1,540.3 871.5,506.5 876.9,481.9 882.3,473.0 887.7,471.1 893.1,472.4 898.5,473.1" fill="none" stroke="#cc2a2a" stroke-width="1" stroke-dasharray="1.6 1.8" shape-rendering="auto"/>
</g>
<text transform="translate(5.60,452.70) scale(0.91,1)" font-size="6.8" fill="#000" stroke="#000" stroke-width="0.28" >Stoch(9,3,3) 82.0393 83.0942</text>
<text transform="translate(1138.30,451.90) scale(0.91,1)" font-size="6.8" fill="#000" stroke="#000" stroke-width="0.28" >100</text>
<text transform="translate(1138.30,480.80) scale(0.91,1)" font-size="6.8" fill="#000" stroke="#000" stroke-width="0.28" >80</text>
<text transform="translate(1138.30,529.70) scale(0.91,1)" font-size="6.8" fill="#000" stroke="#000" stroke-width="0.28" >50</text>
<text transform="translate(1138.30,579.30) scale(0.91,1)" font-size="6.8" fill="#000" stroke="#000" stroke-width="0.28" >20</text>
<text transform="translate(1138.30,607.00) scale(0.91,1)" font-size="6.8" fill="#000" stroke="#000" stroke-width="0.28" >0</text>
<rect x="2.3" y="610" width="1" height="2" fill="#222"/>
<text transform="translate(2.60,617.50) scale(0.91,1)" font-size="6.8" fill="#000" stroke="#000" stroke-width="0.28" >17 Aug 2020</text>
<rect x="45.5" y="610" width="1" height="2" fill="#222"/>
<text transform="translate(45.76,617.50) scale(0.91,1)" font-size="6.8" fill="#000" stroke="#000" stroke-width="0.28" >17 Aug 17:00</text>
<rect x="88.6" y="610" width="1" height="2" fill="#222"/>
<text transform="translate(88.92,617.50) scale(0.91,1)" font-size="6.8" fill="#000" stroke="#000" stroke-width="0.28" >18 Aug 01:00</text>
<rect x="131.8" y="610" width="1" height="2" fill="#222"/>
<text transform="translate(132.08,617.50) scale(0.91,1)" font-size="6.8" fill="#000" stroke="#000" stroke-width="0.28" >18 Aug 09:00</text>
<rect x="174.9" y="610" width="1" height="2" fill="#222"/>
<text transform="translate(175.24,617.50) scale(0.91,1)" font-size="6.8" fill="#000" stroke="#000" stroke-width="0.28" >18 Aug 17:00</text>
<rect x="218.1" y="610" width="1" height="2" fill="#222"/>
<text transform="translate(218.40,617.50) scale(0.91,1)" font-size="6.8" fill="#000" stroke="#000" stroke-width="0.28" >19 Aug 01:00</text>
<rect x="261.3" y="610" width="1" height="2" fill="#222"/>
<text transform="translate(261.56,617.50) scale(0.91,1)" font-size="6.8" fill="#000" stroke="#000" stroke-width="0.28" >19 Aug 09:00</text>
<rect x="304.4" y="610" width="1" height="2" fill="#222"/>
<text transform="translate(304.72,617.50) scale(0.91,1)" font-size="6.8" fill="#000" stroke="#000" stroke-width="0.28" >19 Aug 17:00</text>
<rect x="347.6" y="610" width="1" height="2" fill="#222"/>
<text transform="translate(347.88,617.50) scale(0.91,1)" font-size="6.8" fill="#000" stroke="#000" stroke-width="0.28" >20 Aug 01:00</text>
<rect x="390.7" y="610" width="1" height="2" fill="#222"/>
<text transform="translate(391.04,617.50) scale(0.91,1)" font-size="6.8" fill="#000" stroke="#000" stroke-width="0.28" >20 Aug 09:00</text>
<rect x="433.9" y="610" width="1" height="2" fill="#222"/>
<text transform="translate(434.20,617.50) scale(0.91,1)" font-size="6.8" fill="#000" stroke="#000" stroke-width="0.28" >20 Aug 17:00</text>
<rect x="477.1" y="610" width="1" height="2" fill="#222"/>
<text transform="translate(477.36,617.50) scale(0.91,1)" font-size="6.8" fill="#000" stroke="#000" stroke-width="0.28" >21 Aug 01:00</text>
<rect x="520.2" y="610" width="1" height="2" fill="#222"/>
<text transform="translate(520.52,617.50) scale(0.91,1)" font-size="6.8" fill="#000" stroke="#000" stroke-width="0.28" >21 Aug 09:00</text>
<rect x="563.4" y="610" width="1" height="2" fill="#222"/>
<text transform="translate(563.68,617.50) scale(0.91,1)" font-size="6.8" fill="#000" stroke="#000" stroke-width="0.28" >21 Aug 17:00</text>
<rect x="606.5" y="610" width="1" height="2" fill="#222"/>
<text transform="translate(606.84,617.50) scale(0.91,1)" font-size="6.8" fill="#000" stroke="#000" stroke-width="0.28" >22 Aug 01:00</text>
<rect x="649.7" y="610" width="1" height="2" fill="#222"/>
<text transform="translate(650.00,617.50) scale(0.91,1)" font-size="6.8" fill="#000" stroke="#000" stroke-width="0.28" >24 Aug 11:00</text>
<rect x="692.9" y="610" width="1" height="2" fill="#222"/>
<text transform="translate(693.16,617.50) scale(0.91,1)" font-size="6.8" fill="#000" stroke="#000" stroke-width="0.28" >24 Aug 19:00</text>
<rect x="736.0" y="610" width="1" height="2" fill="#222"/>
<text transform="translate(736.32,617.50) scale(0.91,1)" font-size="6.8" fill="#000" stroke="#000" stroke-width="0.28" >25 Aug 03:00</text>
<rect x="779.2" y="610" width="1" height="2" fill="#222"/>
<text transform="translate(779.48,617.50) scale(0.91,1)" font-size="6.8" fill="#000" stroke="#000" stroke-width="0.28" >25 Aug 11:00</text>
<rect x="822.3" y="610" width="1" height="2" fill="#222"/>
<text transform="translate(822.64,617.50) scale(0.91,1)" font-size="6.8" fill="#000" stroke="#000" stroke-width="0.28" >25 Aug 19:00</text>
<rect x="865.5" y="610" width="1" height="2" fill="#222"/>
<text transform="translate(865.80,617.50) scale(0.91,1)" font-size="6.8" fill="#000" stroke="#000" stroke-width="0.28" >26 Aug 03:00</text>
<rect x="1" y="624" width="71" height="1.6" fill="#979797"/>
<rect x="71" y="624" width="1" height="4" fill="#8a8a8a"/>
<rect x="132" y="624" width="1036" height="1.6" fill="#979797"/>
<rect x="132" y="624" width="1" height="4" fill="#8a8a8a"/>
<rect x="185" y="624" width="1" height="4" fill="#8a8a8a"/>
</svg></body></html>
